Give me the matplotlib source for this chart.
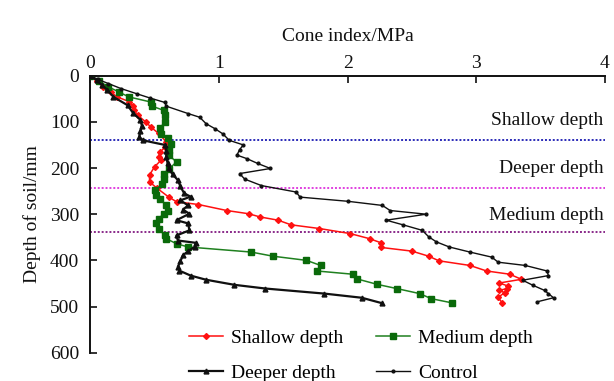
import matplotlib
matplotlib.use("Agg")
import matplotlib.pyplot as plt

plt.rcParams["font.family"] = ["Liberation Serif", "DejaVu Serif"]

# Cone penetration profiles: depth (mm) and cone index (MPa)
shallow_depth = [0, 12, 24, 36, 46, 56, 66, 75, 86, 100, 111, 125, 143, 155, 166, 176, 183, 197,
                 215, 230, 244, 263, 273, 279, 292, 299, 306, 313, 323, 331, 342, 353, 362, 372,
                 380, 391, 401, 411, 423, 430, 441, 449, 456, 461, 465, 470, 480, 492]
shallow_ci = [0, 0.05, 0.10, 0.16, 0.21, 0.30, 0.33, 0.34, 0.37, 0.43, 0.47, 0.53, 0.59, 0.58, 0.54,
              0.53, 0.55, 0.50, 0.46, 0.46, 0.52, 0.61, 0.67, 0.84, 1.06, 1.23, 1.32, 1.46, 1.56,
              1.78, 2.02, 2.17, 2.26, 2.26, 2.50, 2.63, 2.71, 2.95, 3.08, 3.26, 3.35, 3.18, 3.25,
              3.24, 3.18, 3.22, 3.17, 3.20]

medium_depth = [0, 12, 24, 35, 46, 57, 66, 75, 86, 100, 114, 126, 136, 147, 160, 172, 187, 202,
                212, 223, 235, 248, 259, 266, 281, 292, 299, 310, 320, 331, 346, 353, 364, 371,
                382, 391, 400, 411, 423, 430, 440, 452, 461, 472, 483, 492]
medium_ci = [0, 0.07, 0.14, 0.22, 0.30, 0.47, 0.48, 0.57, 0.58, 0.58, 0.54, 0.55, 0.60, 0.63, 0.61,
             0.61, 0.67, 0.61, 0.57, 0.57, 0.56, 0.50, 0.51, 0.54, 0.59, 0.60, 0.57, 0.53, 0.51,
             0.53, 0.58, 0.59, 0.67, 0.76, 1.25, 1.42, 1.68, 1.79, 1.76, 2.04, 2.07, 2.23, 2.38,
             2.56, 2.65, 2.81]

deeper_depth = [0, 10, 20, 30, 46, 64, 80, 96, 108, 120, 133, 140, 150, 163, 176, 189, 201, 214,
                226, 240, 255, 262, 270, 281, 290, 299, 313, 320, 335, 346, 357, 362, 371, 380,
                389, 402, 414, 422, 433, 442, 453, 461, 472, 481, 493]
deeper_ci = [0, 0.05, 0.09, 0.13, 0.18, 0.29, 0.33, 0.39, 0.40, 0.39, 0.38, 0.41, 0.58, 0.59, 0.59,
             0.60, 0.61, 0.64, 0.68, 0.70, 0.73, 0.78, 0.70, 0.76, 0.72, 0.77, 0.67, 0.76, 0.77,
             0.67, 0.68, 0.82, 0.81, 0.76, 0.72, 0.70, 0.68, 0.69, 0.78, 0.90, 1.12, 1.36, 1.82,
             2.11, 2.27]

control_depth = [0, 8, 17, 28, 39, 48, 58, 66, 82, 90, 104, 115, 126, 140, 150, 160, 172, 180,
                 190, 201, 212, 224, 238, 252, 263, 272, 281, 292, 300, 313, 323, 335, 349, 360,
                 371, 382, 393, 404, 411, 423, 433, 443, 454, 465, 472, 481, 490]
control_ci = [0, 0.06, 0.14, 0.24, 0.36, 0.46, 0.58, 0.59, 0.76, 0.85, 0.90, 0.97, 1.03, 1.08,
              1.19, 1.16, 1.14, 1.22, 1.30, 1.40, 1.16, 1.20, 1.33, 1.60, 1.63, 2.00, 2.27, 2.33,
              2.61, 2.30, 2.43, 2.58, 2.63, 2.69, 2.79, 2.95, 3.12, 3.17, 3.38, 3.55, 3.56, 3.36,
              3.44, 3.53, 3.56, 3.60, 3.47]

# Treatment depth boundaries and their labels
boundary_depths = [140, 244, 339]
boundary_colors = ["#2a2ab8", "#e040e0", "#8a2a8a"]
zone_labels = ["Shallow depth", "Deeper depth", "Medium depth"]
zone_label_depths = [98, 201, 302]

x_ticks = [0, 1, 2, 3, 4]
y_ticks = [0, 100, 200, 300, 400, 500, 600]

fig = plt.figure(figsize=(6.14, 3.81), dpi=100)
ax = fig.add_axes([0.1471, 0.0743, 0.8382, 0.727])

for d, c in zip(boundary_depths, boundary_colors):
    ax.axhline(d, color=c, lw=1.4, ls=(0, (1, 1)), zorder=1)

for lab, d in zip(zone_labels, zone_label_depths):
    ax.text(3.99, d, lab, ha="right", va="center", fontsize=14, color="#111111")

ax.plot(shallow_ci, shallow_depth, color="#ff1010", lw=1.1, marker="D", ms=3,
        label="Shallow depth", zorder=3)
ax.plot(medium_ci, medium_depth, color="#1f801f", lw=1.1, marker="s", ms=4.5,
        mfc="#0a6a0a", mec="#0a6a0a", label="Medium depth", zorder=3)
ax.plot(deeper_ci, deeper_depth, color="#101010", lw=1.6, marker="^", ms=3.5,
        label="Deeper depth", zorder=3)
ax.plot(control_ci, control_depth, color="#101010", lw=1.0, marker="o", ms=2,
        label="Control", zorder=3)

ax.set_xlim(0, 4)
ax.set_ylim(600, 0)
ax.set_xticks(x_ticks)
ax.set_yticks(y_ticks)
ax.xaxis.tick_top()
ax.xaxis.set_label_position("top")
ax.tick_params(axis="both", direction="in", length=5, width=1.2, labelsize=14,
               colors="#111111")
ax.tick_params(axis="x", pad=3)
ax.tick_params(axis="y", pad=8)
for s in ["right", "bottom"]:
    ax.spines[s].set_visible(False)
for s in ["top", "left"]:
    ax.spines[s].set_linewidth(1.4)
    ax.spines[s].set_color("#111111")

ax.set_xlabel("Cone index/MPa", fontsize=14, labelpad=10, color="#111111")
ax.set_ylabel("Depth of soil/mm", fontsize=14, labelpad=6, color="#111111")

handles, labels = ax.get_legend_handles_labels()
order = [0, 2, 1, 3]
leg = fig.legend([handles[i] for i in order], [labels[i] for i in order],
                 ncol=2, frameon=False, fontsize=14, loc="upper left",
                 bbox_to_anchor=(189 / 614, 1 - 329 / 381), handlelength=1.75,
                 handletextpad=0.4, columnspacing=1.7, labelspacing=0.9,
                 borderaxespad=0, borderpad=0)

fig.savefig("out.png", dpi=100)
